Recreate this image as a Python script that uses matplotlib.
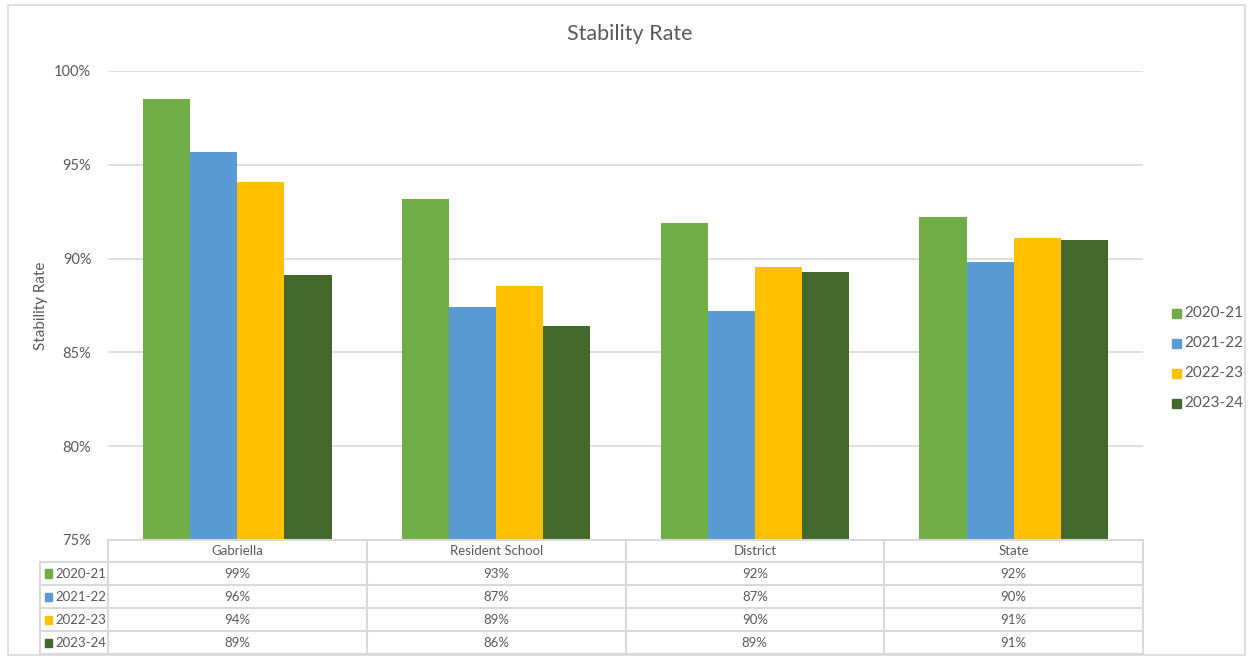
import numpy as np
import matplotlib.pyplot as plt
from matplotlib.patches import Rectangle

plt.rcParams['font.family'] = ['Lato', 'DejaVu Sans']

## Donnees

categories = ["Gabriella", "Resident School", "District", "State"]
years = ["2020-21", "2021-22", "2022-23", "2023-24"]
rate_2021 = [98.52, 93.2, 91.9, 92.2]
rate_2122 = [95.7, 87.4, 87.2, 89.8]
rate_2223 = [94.1, 88.55, 89.55, 91.1]
rate_2324 = [89.1, 86.4, 89.3, 91.0]
colors = ["#70AD47", "#5B9BD5", "#FFC000", "#43682B"]

series = [rate_2021, rate_2122, rate_2223, rate_2324]
grey = "#595959"
line = "#d9d9d9"

fig = plt.figure(figsize=(12.5, 6.57), dpi=100)
W, H = 1250, 657

# cadre exterieur du graphique
fig.patches.append(Rectangle((8 / W, 1 - 655 / H), 1237 / W, 650 / H,
                             transform=fig.transFigure, fill=False,
                             edgecolor=line, linewidth=1.2))

## Histogramme

ax = fig.add_axes([108 / W, 1 - 540 / H, 1035 / W, 469 / H])
x = np.arange(len(categories))
bw = 0.182
for k in range(4):
    ax.bar(x + (k - 1.5) * bw, series[k], width=bw, bottom=0,
           color=colors[k], zorder=3)

ax.set_xlim(-0.5, 3.5)
ax.set_ylim(75, 100)
ax.set_yticks([75, 80, 85, 90, 95, 100])
ax.set_yticklabels(["75%", "80%", "85%", "90%", "95%", "100%"])
ax.tick_params(axis="y", length=0, pad=12, labelsize=10.5, labelcolor=grey)
ax.set_xticks([])
ax.grid(axis="y", color=line, linewidth=1.2, zorder=0)
for s in ax.spines.values():
    s.set_visible(False)
ax.set_ylabel("Stability Rate", fontsize=11, color=grey)
ax.yaxis.set_label_coords(-0.058, 0.5)
fig.text(630 / W, 1 - 34 / H, "Stability Rate", ha="center", va="center",
         fontsize=15.5, color=grey)

## Legende

for k in range(4):
    yk = 1 - (313 + 30 * k) / H
    fig.patches.append(Rectangle((1172 / W, yk - 4.5 / H), 9 / W, 9 / H,
                                 transform=fig.transFigure, color=colors[k]))
    fig.text(1184 / W, yk, years[k], va="center", fontsize=11, color=grey)

## Tableau de donnees

tab = fig.add_axes([108 / W, 1 - 654 / H, 1035 / W, 114 / H])
tab.set_xlim(-0.5, 3.5)
tab.set_ylim(4.95, 0)
tab.axis("off")
left = -0.5 - 68 / 258.75

# lignes horizontales
tab.plot([-0.5, 3.5], [0, 0], color=line, lw=1.5, clip_on=False)
for r in range(1, 6):
    y = 0.96 + (r - 1) * 1.0
    tab.plot([left, 3.5], [y, y], color=line, lw=1.5, clip_on=False)
# lignes verticales
for c in range(5):
    tab.plot([c - 0.5, c - 0.5], [0, 4.96], color=line, lw=1.5, clip_on=False)
tab.plot([left, left], [0.96, 4.96], color=line, lw=1.5, clip_on=False)

for c, name in enumerate(categories):
    tab.text(c, 0.48, name, ha="center", va="center", fontsize=9.5, color=grey)
for k in range(4):
    yr = 1.46 + k
    tab.add_patch(Rectangle((left + 0.02, yr - 0.18), 0.028, 0.36,
                            color=colors[k], clip_on=False))
    tab.text(left + 0.06, yr, years[k], va="center", fontsize=9.5, color=grey)
    for c in range(4):
        tab.text(c, yr, f"{series[k][c]:.0f}%", ha="center", va="center",
                 fontsize=9.5, color=grey)

plt.savefig("out.png", dpi=100)
